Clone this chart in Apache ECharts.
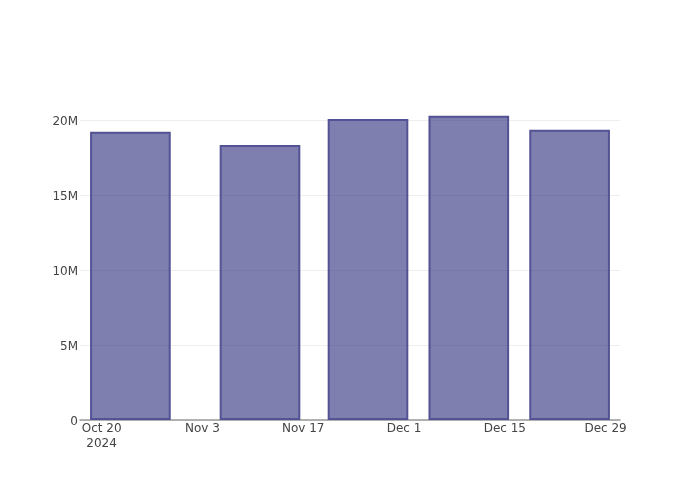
<!DOCTYPE html>
<html>
<head>
<meta charset="utf-8">
<script src="https://cdn.jsdelivr.net/npm/echarts@6/dist/echarts.min.js"></script>
<style>
html,body{margin:0;padding:0;background:#fff;}
#chart{width:700px;height:500px;}
</style>
</head>
<body>
<div id="chart"></div>
<script>
// Data
var barDates = ['2024-10-24', '2024-11-11', '2024-11-26', '2024-12-10', '2024-12-24'];
var barValues = [19220000, 18330000, 20070000, 20290000, 19350000];
var tickDates = ['2024-10-20', '2024-11-03', '2024-11-17', '2024-12-01', '2024-12-15', '2024-12-29'];
var tickLabels = ['Oct 20\n2024', 'Nov 3', 'Nov 17', 'Dec 1', 'Dec 15', 'Dec 29'];
var xRange = ['2024-10-17', '2024-12-31'];
var yTickLabels = ['0', '5M', '10M', '15M', '20M'];

function ts(s) { var p = s.split('-'); return Date.UTC(+p[0], +p[1] - 1, +p[2]); }
var DAY = 86400000;
var tickTs = tickDates.map(ts);
var labelMap = {};
tickTs.forEach(function (t, i) { labelMap[t] = tickLabels[i]; });

var chart = echarts.init(document.getElementById('chart'), null, { renderer: 'canvas' });
var font = '"DejaVu Sans", sans-serif';
var gridLeft = 80, gridRight = 80;
var plotWidth = 700 - gridLeft - gridRight;
var spanDays = (ts(xRange[1]) - ts(xRange[0])) / DAY;
var barWidthPx = 14 * 0.8 * plotWidth / spanDays;

chart.setOption({
  animation: false,
  backgroundColor: '#fff',
  grid: { left: gridLeft, right: gridRight, top: 100, bottom: 80, containLabel: false },
  xAxis: {
    type: 'value',
    min: ts(xRange[0]),
    max: ts(xRange[1]),
    axisLine: { show: true, onZero: false, lineStyle: { color: '#999', width: 1.5 } },
    axisTick: { show: false },
    splitLine: { show: false },
    axisLabel: {
      customValues: tickTs,
      formatter: function (v) { return labelMap[v] || ''; },
      color: '#444', fontSize: 12, fontFamily: font, lineHeight: 15, margin: 1
    }
  },
  yAxis: {
    type: 'value',
    min: 0,
    max: 21333333,
    interval: 5000000,
    axisLine: { show: false },
    axisTick: { show: false },
    splitLine: { show: true, showMaxLine: false, lineStyle: { color: '#eee', width: 1 } },
    axisLabel: {
      showMaxLabel: false,
      formatter: function (v) { var i = Math.round(v / 5000000); return (Math.abs(v - i * 5000000) < 1 && yTickLabels[i] !== undefined) ? yTickLabels[i] : ''; },
      color: '#444', fontSize: 12, fontFamily: font, margin: 2, verticalAlign: 'top', lineHeight: 4
    }
  },
  series: [{
    type: 'bar',
    barWidth: barWidthPx,
    data: barDates.map(function (d, i) { return [ts(d), barValues[i]]; }),
    itemStyle: { color: 'rgba(42,42,122,0.6)', borderColor: 'rgb(82,82,148)', borderWidth: 2 }
  }]
});
</script>
</body>
</html>
